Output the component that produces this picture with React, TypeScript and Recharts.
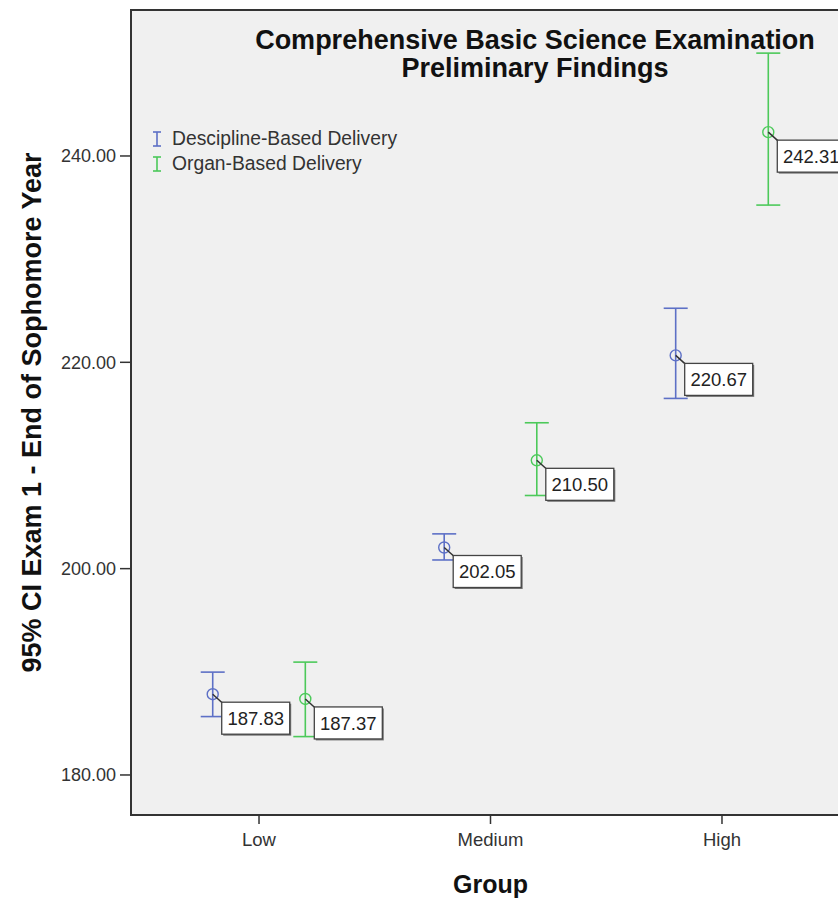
import React from 'react';
import {
  ComposedChart,
  Scatter,
  ErrorBar,
  XAxis,
  YAxis,
  ReferenceArea,
} from 'recharts';

const groups = ['Low', 'Medium', 'High'];
const yTicks = [180, 200, 220, 240];

const disciplineMean = [187.83, 202.05, 220.67];
const disciplineLower = [185.66, 200.84, 216.5];
const disciplineUpper = [189.97, 203.37, 225.24];

const organMean = [187.37, 210.5, 242.31];
const organLower = [183.72, 207.09, 235.24];
const organUpper = [190.94, 214.14, 249.97];

const BLUE = '#5d70c6';
const GREEN = '#4cc95a';
const FONT = '"Liberation Sans", Arial, sans-serif';

const X_DOMAIN: [number, number] = [0.447, 3.553];
const Y_DOMAIN: [number, number] = [176.12, 254.15];
const DODGE = 0.2;

function buildSeries(mean: number[], lower: number[], upper: number[], shift: number) {
  return mean.map((m, i) => ({
    x: i + 1 + shift,
    mean: m,
    err: [m - lower[i], upper[i] - m],
  }));
}

const disciplineData = buildSeries(disciplineMean, disciplineLower, disciplineUpper, -DODGE);
const organData = buildSeries(organMean, organLower, organUpper, DODGE);

function makeShape(color: string) {
  return (props: any) => {
    const { cx, cy, payload } = props;
    const bx = cx + 9;
    const by = cy + 8;
    return (
      <g>
        <circle cx={cx} cy={cy} r={5.5} fill="none" stroke={color} strokeWidth={1.4} />
        <line x1={cx} y1={cy} x2={bx + 1} y2={by + 1} stroke="#333" strokeWidth={1.5} />
        <rect x={bx + 1.5} y={by + 1.5} width={68} height={32} fill="#777" />
        <rect x={bx} y={by} width={68} height={32} fill="#fff" stroke="#444" strokeWidth={1.3} />
        <text
          x={bx + 34}
          y={by + 23}
          textAnchor="middle"
          fontSize={18.5}
          fontFamily={FONT}
          fill="#222"
        >
          {payload.mean.toFixed(2)}
        </text>
      </g>
    );
  };
}

function LegendIcon({ color }: { color: string }) {
  return (
    <svg width={12} height={18} style={{ marginRight: 9 }}>
      <line x1={2} y1={2} x2={10} y2={2} stroke={color} strokeWidth={1.6} />
      <line x1={6} y1={2} x2={6} y2={16} stroke={color} strokeWidth={1.6} />
      <line x1={2} y1={16} x2={10} y2={16} stroke={color} strokeWidth={1.6} />
    </svg>
  );
}

function LegendBox() {
  const items = [
    { label: 'Descipline-Based Delivery', color: BLUE },
    { label: 'Organ-Based Delivery', color: GREEN },
  ];
  return (
    <div
      style={{
        position: 'absolute',
        left: 151,
        top: 126,
        fontFamily: FONT,
        fontSize: 19.3,
        color: '#333',
      }}
    >
      {items.map((it) => (
        <div key={it.label} style={{ display: 'flex', alignItems: 'center', height: 25 }}>
          <LegendIcon color={it.color} />
          <span>{it.label}</span>
        </div>
      ))}
    </div>
  );
}

export default function App() {
  return (
    <div
      style={{
        position: 'absolute',
        left: 0,
        top: 0,
        width: 838,
        height: 899,
        overflow: 'hidden',
        background: '#fff',
      }}
    >
      <ComposedChart
        width={880}
        height={899}
        margin={{ top: 10, right: 30, left: 0, bottom: 0 }}
      >
        <ReferenceArea
          x1={X_DOMAIN[0]}
          x2={X_DOMAIN[1]}
          y1={Y_DOMAIN[0]}
          y2={Y_DOMAIN[1]}
          fill="#f0f0f0"
          fillOpacity={1}
          stroke="#333"
          strokeWidth={2}
        />
        <XAxis
          type="number"
          dataKey="x"
          domain={X_DOMAIN}
          allowDataOverflow
          ticks={[1, 2, 3]}
          tickFormatter={(v: number) => groups[v - 1]}
          height={84}
          tickSize={9}
          tickMargin={9}
          axisLine={{ stroke: '#333', strokeWidth: 2 }}
          tickLine={{ stroke: '#333', strokeWidth: 1.5 }}
          tick={{ fill: '#333', fontSize: 18.5, fontFamily: FONT }}
          label={{
            value: 'Group',
            position: 'insideBottom',
            offset: 6,
            fill: '#111',
            fontSize: 25,
            fontWeight: 700,
            fontFamily: FONT,
          }}
        />
        <YAxis
          type="number"
          domain={Y_DOMAIN}
          allowDataOverflow
          ticks={yTicks}
          tickFormatter={(v: number) => v.toFixed(2)}
          width={131}
          tickSize={11}
          tickMargin={4}
          axisLine={{ stroke: '#333', strokeWidth: 2 }}
          tickLine={{ stroke: '#333', strokeWidth: 1.5 }}
          tick={{ fill: '#333', fontSize: 18, fontFamily: FONT }}
          label={{
            value: '95% CI Exam 1 - End of Sophomore Year',
            angle: -90,
            position: 'insideLeft',
            offset: 31,
            fill: '#111',
            fontSize: 27,
            fontWeight: 700,
            fontFamily: FONT,
            style: { textAnchor: 'middle' },
          }}
        />
        <Scatter
          name="Descipline-Based Delivery"
          data={disciplineData}
          dataKey="mean"
          fill={BLUE}
          shape={makeShape(BLUE)}
          isAnimationActive={false}
        >
          <ErrorBar dataKey="err" direction="y" width={12} stroke={BLUE} strokeWidth={1.6} />
        </Scatter>
        <Scatter
          name="Organ-Based Delivery"
          data={organData}
          dataKey="mean"
          fill={GREEN}
          shape={makeShape(GREEN)}
          isAnimationActive={false}
        >
          <ErrorBar dataKey="err" direction="y" width={12} stroke={GREEN} strokeWidth={1.6} />
        </Scatter>
      </ComposedChart>
      <LegendBox />
      <div
        style={{
          position: 'absolute',
          left: 535,
          top: 26,
          transform: 'translateX(-50%)',
          textAlign: 'center',
          fontFamily: FONT,
          fontWeight: 700,
          fontSize: 27,
          lineHeight: '28px',
          color: '#111',
          whiteSpace: 'nowrap',
        }}
      >
        Comprehensive Basic Science Examination
        <br />
        Preliminary Findings
      </div>
    </div>
  );
}
